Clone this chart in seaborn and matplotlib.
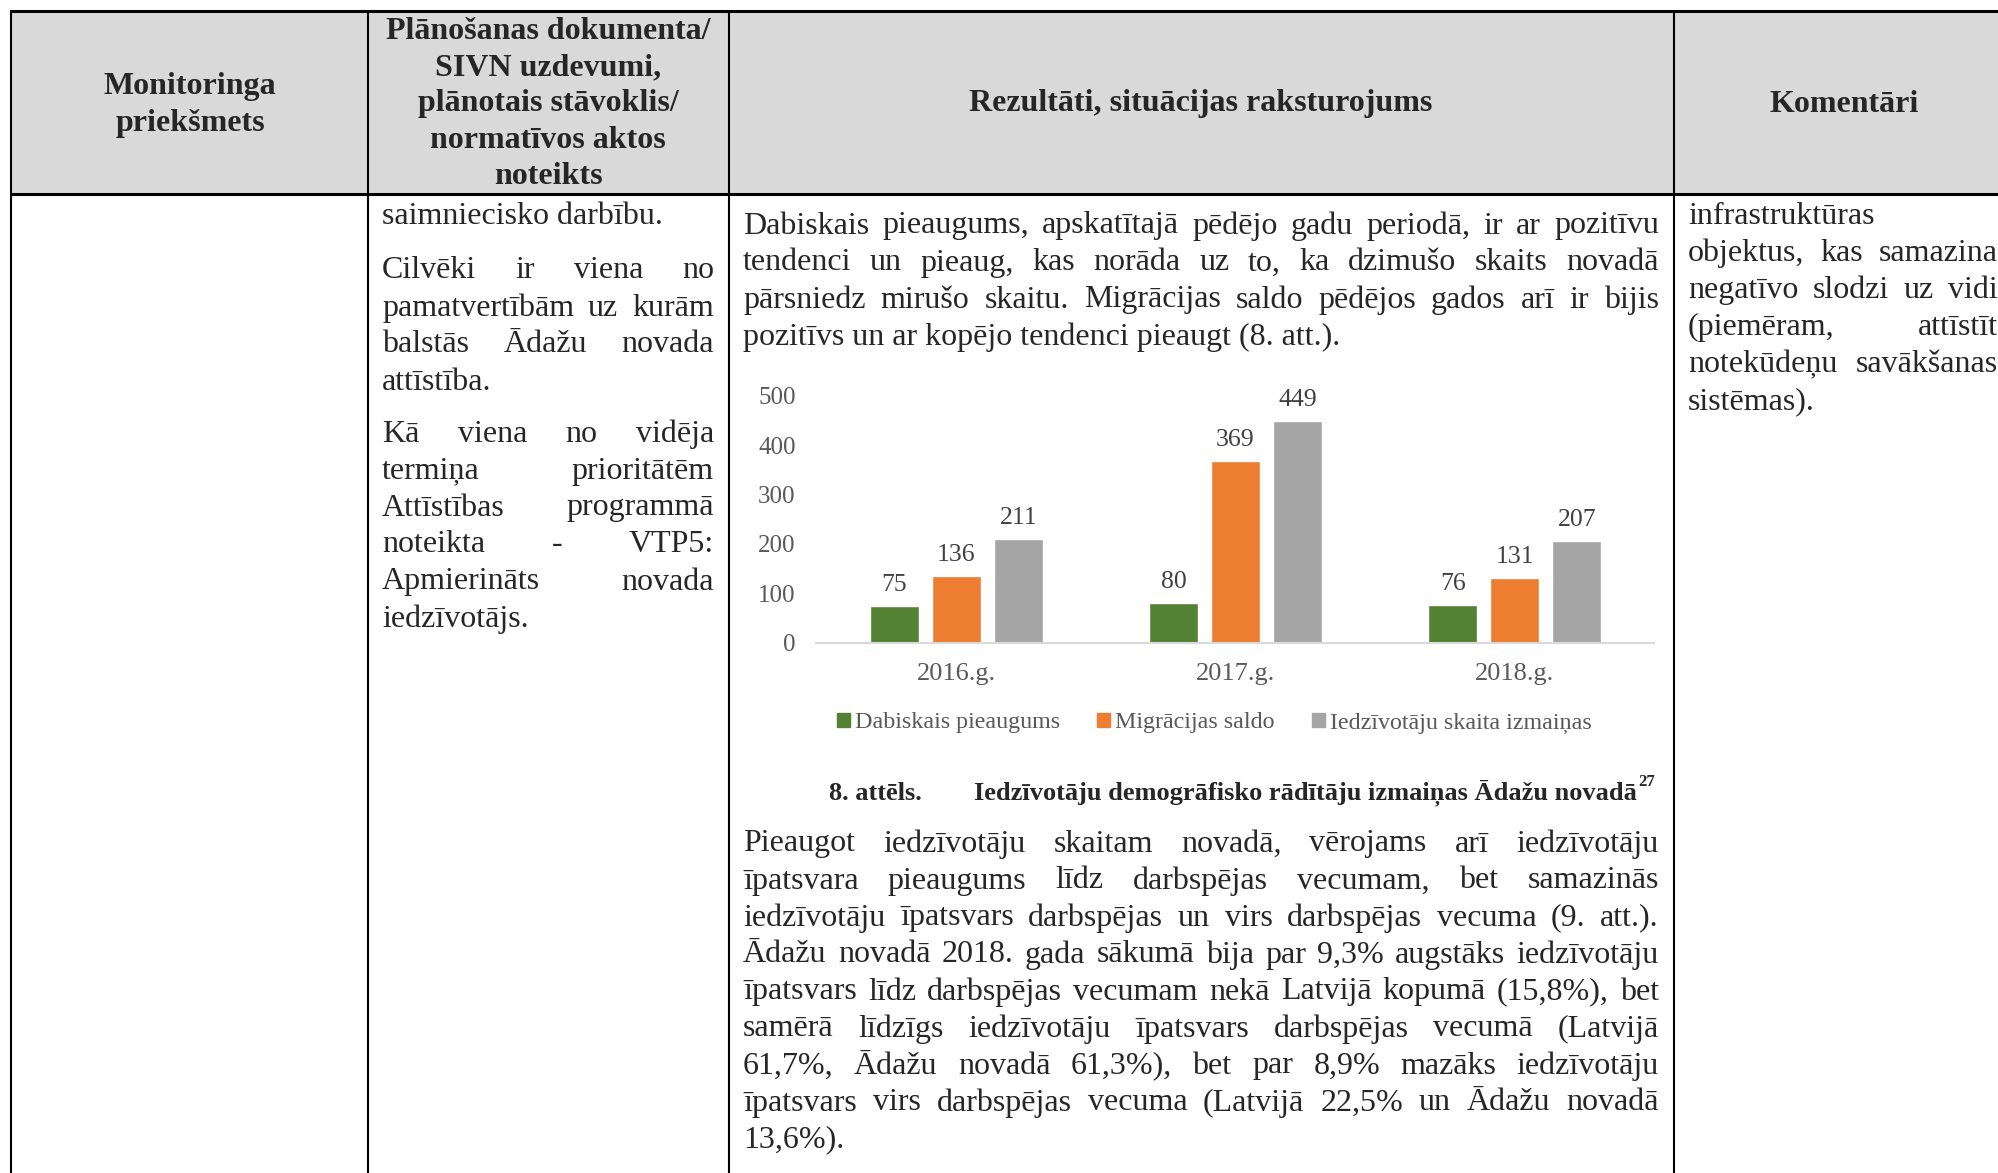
import matplotlib
matplotlib.use("Agg")
import matplotlib.pyplot as plt
from matplotlib.patches import Rectangle, Patch
import pandas as pd
import seaborn as sns

# chart data
years = ["2016.g.", "2017.g.", "2018.g."]
series = ["Dabiskais pieaugums", "Migrācijas saldo", "Iedzīvotāju skaita izmaiņas"]
natural_growth = [75, 80, 76]
migration = [136, 369, 131]
total_change = [211, 449, 207]
colors = ["#548235", "#ED7D31", "#A5A5A5"]

# table texts
header_cols = ["Monitoringa\npriekšmets",
               "Plānošanas dokumenta/\nSIVN uzdevumi,\nplānotais stāvoklis/\nnormatīvos aktos\nnoteikts",
               "Rezultāti, situācijas raksturojums",
               "Komentāri"]
col2_lines = [("saimniecisko darbību.", False),
              ("Cilvēki ir viena no", True),
              ("pamatvertībām uz kurām", True),
              ("balstās Ādažu novada", True),
              ("attīstība.", False),
              ("Kā viena no vidēja", True),
              ("termiņa prioritātēm", True),
              ("Attīstības programmā", True),
              ("noteikta - VTP5:", True),
              ("Apmierināts novada", True),
              ("iedzīvotājs.", False)]
col3_top = [("Dabiskais pieaugums, apskatītajā pēdējo gadu periodā, ir ar pozitīvu", True),
            ("tendenci un pieaug, kas norāda uz to, ka dzimušo skaits novadā", True),
            ("pārsniedz mirušo skaitu.  Migrācijas saldo pēdējos gados arī ir bijis", True),
            ("pozitīvs un ar kopējo tendenci pieaugt (8. att.).", False)]
col3_bottom = [("Pieaugot iedzīvotāju skaitam novadā, vērojams arī iedzīvotāju", True),
               ("īpatsvara pieaugums līdz darbspējas vecumam, bet samazinās", True),
               ("iedzīvotāju īpatsvars darbspējas un virs darbspējas vecuma (9. att.).", True),
               ("Ādažu novadā 2018. gada sākumā bija par 9,3% augstāks iedzīvotāju", True),
               ("īpatsvars līdz darbspējas vecumam nekā Latvijā kopumā (15,8%), bet", True),
               ("samērā līdzīgs iedzīvotāju īpatsvars  darbspējas vecumā (Latvijā", True),
               ("61,7%, Ādažu novadā 61,3%), bet par 8,9% mazāks iedzīvotāju", True),
               ("īpatsvars virs darbspējas vecuma (Latvijā 22,5% un Ādažu novadā", True),
               ("13,6%).", False)]
col4_lines = [("infrastruktūras", False),
              ("objektus, kas samazina", True),
              ("negatīvo slodzi uz vidi", True),
              ("(piemēram, attīstīt", True),
              ("notekūdeņu savākšanas", True),
              ("sistēmas).", False)]
caption_num = "8. attēls."
caption_text = "Iedzīvotāju demogrāfisko rādītāju izmaiņas Ādažu novadā"
caption_note = "27"

sns.set_style("white")
plt.rcParams["font.family"] = ["Liberation Serif", "DejaVu Serif"]

W, H = 1999, 1173
fig = plt.figure(figsize=(W / 100, H / 100), dpi=100)
bg = fig.add_axes([0, 0, 1, 1])
bg.set_xlim(0, W)
bg.set_ylim(H, 0)
bg.axis("off")

# table frame
top, head_bot = 11, 194
xs = [11, 368, 729, 1674]
bg.add_patch(Rectangle((xs[0], top), W - xs[0], head_bot - top, color="#d9d9d9", zorder=0))
bg.plot([xs[0], W], [top, top], color="black", lw=2.2)
bg.plot([xs[0], W], [head_bot, head_bot], color="black", lw=2.2)
for x in xs:
    bg.plot([x, x], [top, H], color="black", lw=1.5)

BODY = 23
HEAD = 23
rend = fig.canvas.get_renderer()


def put_lines(lines, x0, x1, y0, step, size=BODY, weight="normal"):
    for i, (txt, just) in enumerate(lines):
        y = y0 + i * step
        words = txt.split()
        if not just or len(words) < 2:
            bg.text(x0, y, txt, fontsize=size, weight=weight, va="center", ha="left")
            continue
        arts = [bg.text(0, y, w, fontsize=size, weight=weight, va="center", ha="left") for w in words]
        widths = [a.get_window_extent(rend).width for a in arts]
        gap = (x1 - x0 - sum(widths)) / (len(words) - 1)
        x = x0
        for a, w in zip(arts, widths):
            a.set_x(x)
            x += w + gap


# header
bg.text(190, 105, header_cols[0], fontsize=HEAD, weight="bold", ha="center", va="center", linespacing=1.34)
bg.text(548, 104, header_cols[1], fontsize=HEAD, weight="bold", ha="center", va="center", linespacing=1.34)
bg.text(1201, 104, header_cols[2], fontsize=HEAD, weight="bold", ha="center", va="center")
bg.text(1844, 104, header_cols[3], fontsize=HEAD, weight="bold", ha="center", va="center")

# body text
put_lines(col2_lines[:1], 382, 714, 216, 37)
put_lines(col2_lines[1:5], 382, 714, 271, 37)
put_lines(col2_lines[5:], 382, 714, 434, 37)
put_lines(col3_top, 743, 1659, 226, 37)
put_lines(col3_bottom, 743, 1659, 844, 37)
put_lines(col4_lines, 1688, 1998, 216, 37.2)

# caption
bg.text(829, 793, caption_num, fontsize=19, weight="bold", va="center")
cap = bg.text(974, 793, caption_text, fontsize=19, weight="bold", va="center")
cap_end = cap.get_window_extent(rend).x1
bg.text(cap_end + 1, 782, caption_note, fontsize=12, weight="bold", va="center")

# chart
df = pd.DataFrame({
    "year": years * 3,
    "series": [series[0]] * 3 + [series[1]] * 3 + [series[2]] * 3,
    "value": natural_growth + migration + total_change,
})
ax_l, ax_r, ax_b, ax_t = 816.5, 1654.5, 642.6, 396
ax = fig.add_axes([ax_l / W, 1 - ax_b / H, (ax_r - ax_l) / W, (ax_b - ax_t) / H])
ax.patch.set_alpha(0)
sns.barplot(data=df, x="year", y="value", hue="series", palette=colors,
            width=0.667, gap=0.21, ax=ax, legend=False, saturation=1)
for c in ax.containers:
    ax.bar_label(c, fontsize=18.5, color="#404040", padding=7)
ax.set_xlim(-0.5, 2.5)
ax.set_ylim(0, 500)
ax.set_yticks([0, 100, 200, 300, 400, 500])
ax.set_xlabel("")
ax.set_ylabel("")
ax.tick_params(axis="both", length=0, labelcolor="#595959")
ax.tick_params(axis="y", pad=15, labelsize=18)
ax.tick_params(axis="x", pad=15, labelsize=19)
for s in ["top", "left", "right"]:
    ax.spines[s].set_visible(False)
ax.spines["bottom"].set_color("#d9d9d9")
ax.spines["bottom"].set_linewidth(1.5)

handles = [Patch(color=c, label=s) for c, s in zip(colors, series)]
fig.legend(handles=handles, loc="center", bbox_to_anchor=(1214 / W, 1 - 723 / H), ncol=3,
           frameon=False, fontsize=17.3, labelcolor="#595959", handlelength=0.55, handleheight=0.55,
           handletextpad=0.2, columnspacing=1.55)

fig.savefig("out.png", dpi=100)
